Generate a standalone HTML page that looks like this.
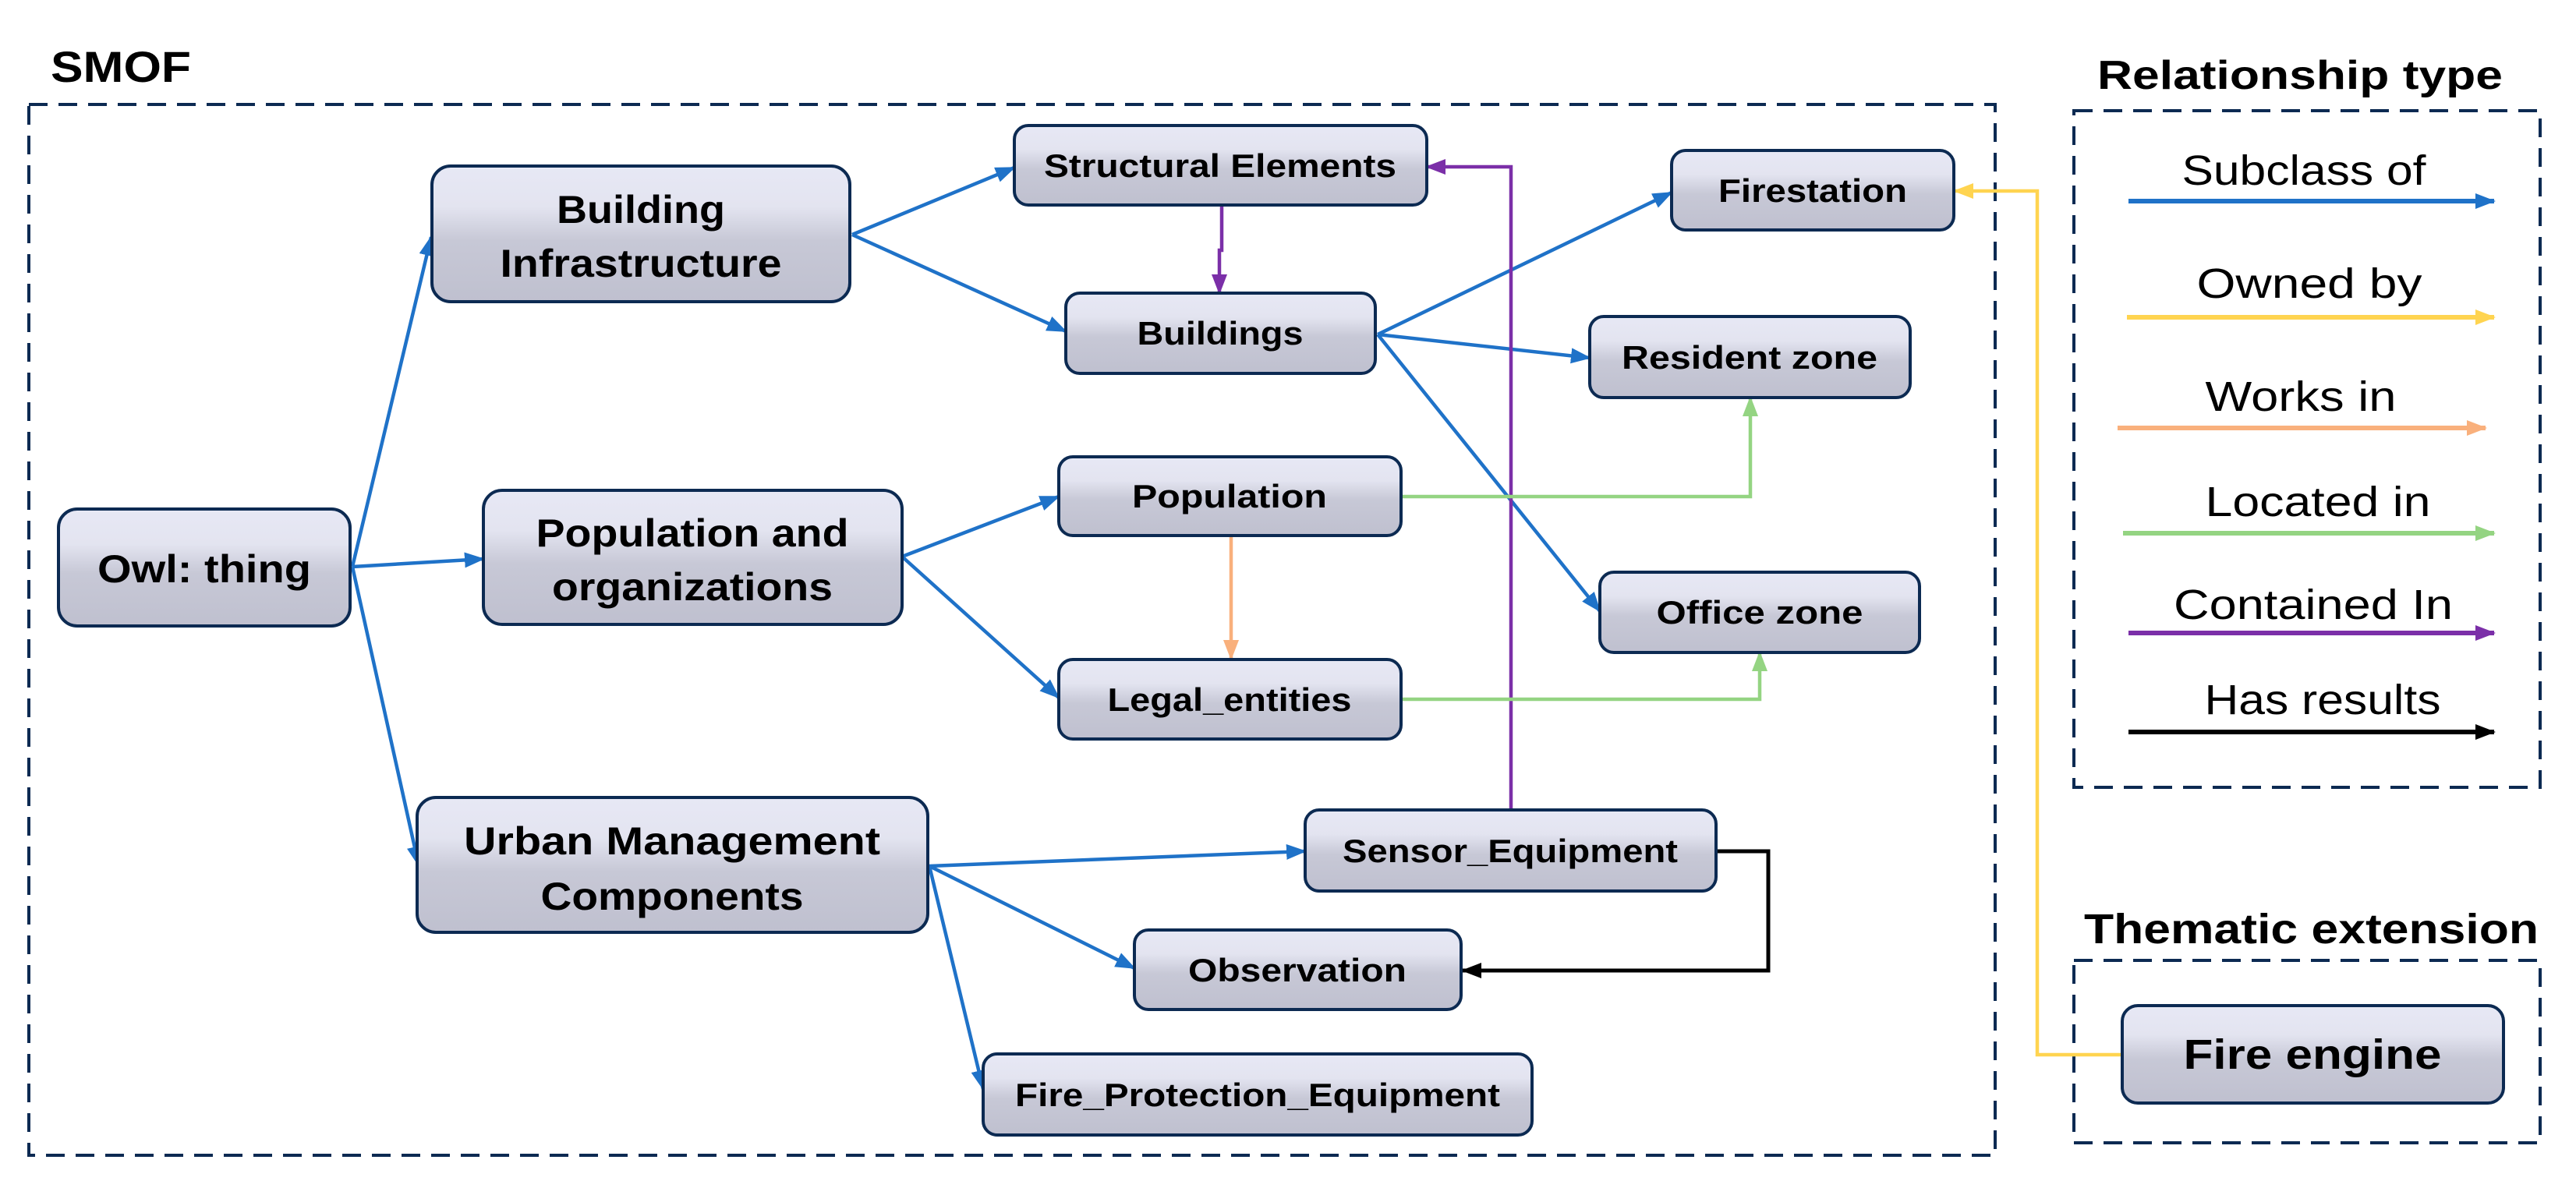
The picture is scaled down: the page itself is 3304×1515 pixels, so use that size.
<!DOCTYPE html>
<html><head><meta charset="utf-8"><style>html,body{margin:0;padding:0;background:#fff}svg{display:block}</style></head>
<body>
<svg width="3304" height="1515" viewBox="0 0 3304 1515" xmlns="http://www.w3.org/2000/svg">
<defs>
<linearGradient id="g" x1="0" y1="0" x2="0" y2="1">
<stop offset="0" stop-color="#e7e8f5"/><stop offset="0.3" stop-color="#e3e4f0"/><stop offset="0.55" stop-color="#c7c8d6"/><stop offset="1" stop-color="#bfc0cf"/>
</linearGradient>
<marker id="mb" markerUnits="userSpaceOnUse" markerWidth="26" markerHeight="20" refX="24" refY="10" orient="auto"><path d="M0,0 L26,10 L0,20 z" fill="#1f72c8"/></marker>
<marker id="my" markerUnits="userSpaceOnUse" markerWidth="26" markerHeight="20" refX="24" refY="10" orient="auto"><path d="M0,0 L26,10 L0,20 z" fill="#ffd450"/></marker>
<marker id="mo" markerUnits="userSpaceOnUse" markerWidth="26" markerHeight="20" refX="24" refY="10" orient="auto"><path d="M0,0 L26,10 L0,20 z" fill="#f9b07c"/></marker>
<marker id="mg" markerUnits="userSpaceOnUse" markerWidth="26" markerHeight="20" refX="24" refY="10" orient="auto"><path d="M0,0 L26,10 L0,20 z" fill="#94d482"/></marker>
<marker id="mp" markerUnits="userSpaceOnUse" markerWidth="26" markerHeight="20" refX="24" refY="10" orient="auto"><path d="M0,0 L26,10 L0,20 z" fill="#7b2fa8"/></marker>
<marker id="mk" markerUnits="userSpaceOnUse" markerWidth="26" markerHeight="20" refX="24" refY="10" orient="auto"><path d="M0,0 L26,10 L0,20 z" fill="#000"/></marker>
</defs>

<!-- dashed containers -->
<g fill="none" stroke="#0c2a52" stroke-width="4" stroke-dasharray="24 14">
<rect x="37" y="134" width="2522" height="1348"/>
<rect x="2660" y="142" width="598" height="868"/>
<rect x="2660" y="1232" width="598" height="234"/>
</g>

<g font-family="Liberation Sans, sans-serif" font-weight="bold" fill="#000">
<text x="65" y="105" font-size="56" textLength="180" lengthAdjust="spacingAndGlyphs">SMOF</text>
<text x="2690" y="114" font-size="52" textLength="520" lengthAdjust="spacingAndGlyphs">Relationship type</text>
<text x="2673" y="1210" font-size="54" textLength="583" lengthAdjust="spacingAndGlyphs">Thematic extension</text>
</g>

<!-- connectors -->
<g fill="none" stroke-width="4.5">
<g stroke="#1f72c8" marker-end="url(#mb)">
<line x1="452" y1="727" x2="553" y2="304"/>
<line x1="452" y1="727" x2="620" y2="717"/>
<line x1="452" y1="727" x2="537" y2="1110"/>
<line x1="1093" y1="301" x2="1301" y2="215"/>
<line x1="1093" y1="301" x2="1367" y2="425"/>
<line x1="1767" y1="429" x2="2144" y2="247"/>
<line x1="1767" y1="429" x2="2039" y2="459"/>
<line x1="1767" y1="429" x2="2052" y2="784"/>
<line x1="1157" y1="714" x2="1358" y2="637"/>
<line x1="1157" y1="714" x2="1358" y2="895"/>
<line x1="1192" y1="1111" x2="1674" y2="1092"/>
<line x1="1192" y1="1111" x2="1455" y2="1242"/>
<line x1="1192" y1="1111" x2="1261" y2="1397"/>
</g>
<polyline stroke="#7b2fa8" marker-end="url(#mp)" points="1938,1039 1938,214 1830,214"/>
<polyline stroke="#7b2fa8" marker-end="url(#mp)" points="1567,263 1567,321 1564,321 1564,376"/>
<polyline stroke="#94d482" marker-end="url(#mg)" points="1797,637 2245,637 2245,510"/>
<polyline stroke="#94d482" marker-end="url(#mg)" points="1797,897 2257,897 2257,837"/>
<line stroke="#f9b07c" marker-end="url(#mo)" x1="1579" y1="687" x2="1579" y2="845"/>
<polyline stroke="#000" stroke-width="5" marker-end="url(#mk)" points="2201,1092 2268,1092 2268,1245 1876,1245"/>
<polyline stroke="#ffd450" marker-end="url(#my)" points="2722,1353 2613,1353 2613,245 2507,245"/>
</g>

<!-- nodes -->
<g fill="url(#g)" stroke="#0c2a52" stroke-width="4">
<rect x="554" y="213" width="536" height="174" rx="24"/>
<rect x="75" y="653" width="374" height="150" rx="24"/>
<rect x="620" y="629" width="537" height="172" rx="24"/>
<rect x="535" y="1023" width="655" height="173" rx="24"/>
<rect x="1301" y="161" width="529" height="102" rx="18"/>
<rect x="2144" y="193" width="362" height="102" rx="18"/>
<rect x="1367" y="376" width="397" height="103" rx="18"/>
<rect x="2039" y="406" width="411" height="104" rx="18"/>
<rect x="1358" y="586" width="439" height="101" rx="18"/>
<rect x="2052" y="734" width="410" height="103" rx="18"/>
<rect x="1358" y="846" width="439" height="102" rx="18"/>
<rect x="1674" y="1039" width="527" height="104" rx="18"/>
<rect x="1455" y="1193" width="419" height="102" rx="18"/>
<rect x="1261" y="1352" width="704" height="104" rx="18"/>
<rect x="2722" y="1290" width="489" height="125" rx="20"/>
</g>

<g font-family="Liberation Sans, sans-serif" font-weight="bold" fill="#000" text-anchor="middle" lengthAdjust="spacingAndGlyphs">
<text x="822" y="286" font-size="50" textLength="216" lengthAdjust="spacingAndGlyphs">Building</text>
<text x="822" y="355" font-size="50" textLength="361" lengthAdjust="spacingAndGlyphs">Infrastructure</text>
<text x="262" y="747" font-size="50" textLength="274" lengthAdjust="spacingAndGlyphs">Owl: thing</text>
<text x="888" y="701" font-size="50" textLength="401" lengthAdjust="spacingAndGlyphs">Population and</text>
<text x="888" y="770" font-size="50" textLength="360" lengthAdjust="spacingAndGlyphs">organizations</text>
<text x="862" y="1096" font-size="50" textLength="534" lengthAdjust="spacingAndGlyphs">Urban Management</text>
<text x="862" y="1167" font-size="50" textLength="337" lengthAdjust="spacingAndGlyphs">Components</text>
<text x="1565" y="227" font-size="42" textLength="452" lengthAdjust="spacingAndGlyphs">Structural Elements</text>
<text x="2325" y="259" font-size="42" textLength="242" lengthAdjust="spacingAndGlyphs">Firestation</text>
<text x="1565" y="442" font-size="42" textLength="213" lengthAdjust="spacingAndGlyphs">Buildings</text>
<text x="2244" y="473" font-size="42" textLength="328" lengthAdjust="spacingAndGlyphs">Resident zone</text>
<text x="1577" y="651" font-size="42" textLength="250" lengthAdjust="spacingAndGlyphs">Population</text>
<text x="2257" y="800" font-size="42" textLength="265" lengthAdjust="spacingAndGlyphs">Office zone</text>
<text x="1577" y="912" font-size="42" textLength="313" lengthAdjust="spacingAndGlyphs">Legal_entities</text>
<text x="1937" y="1106" font-size="42" textLength="430" lengthAdjust="spacingAndGlyphs">Sensor_Equipment</text>
<text x="1664" y="1259" font-size="42" textLength="280" lengthAdjust="spacingAndGlyphs">Observation</text>
<text x="1613" y="1419" font-size="42" textLength="622" lengthAdjust="spacingAndGlyphs">Fire_Protection_Equipment</text>
<text x="2966" y="1371" font-size="54" textLength="331" lengthAdjust="spacingAndGlyphs">Fire engine</text>
</g>

<!-- legend -->
<g font-family="Liberation Sans, sans-serif" font-size="54" fill="#000" text-anchor="middle">
<text x="2955" y="237" textLength="313" lengthAdjust="spacingAndGlyphs">Subclass of</text>
<text x="2962" y="382" textLength="289" lengthAdjust="spacingAndGlyphs">Owned by</text>
<text x="2951" y="527" textLength="245" lengthAdjust="spacingAndGlyphs">Works in</text>
<text x="2973" y="662" textLength="289" lengthAdjust="spacingAndGlyphs">Located in</text>
<text x="2967" y="794" textLength="358" lengthAdjust="spacingAndGlyphs">Contained In</text>
<text x="2979" y="916" textLength="303" lengthAdjust="spacingAndGlyphs">Has results</text>
</g>
<g stroke-width="6">
<line x1="2730" y1="258" x2="3199" y2="258" stroke="#1f72c8" marker-end="url(#mb)"/>
<line x1="2728" y1="407" x2="3199" y2="407" stroke="#ffd450" marker-end="url(#my)"/>
<line x1="2716" y1="549" x2="3188" y2="549" stroke="#f9b07c" marker-end="url(#mo)"/>
<line x1="2723" y1="684" x2="3199" y2="684" stroke="#94d482" marker-end="url(#mg)"/>
<line x1="2730" y1="812" x2="3199" y2="812" stroke="#7b2fa8" marker-end="url(#mp)"/>
<line x1="2730" y1="939" x2="3199" y2="939" stroke="#000" marker-end="url(#mk)"/>
</g>
</svg>
</body></html>
